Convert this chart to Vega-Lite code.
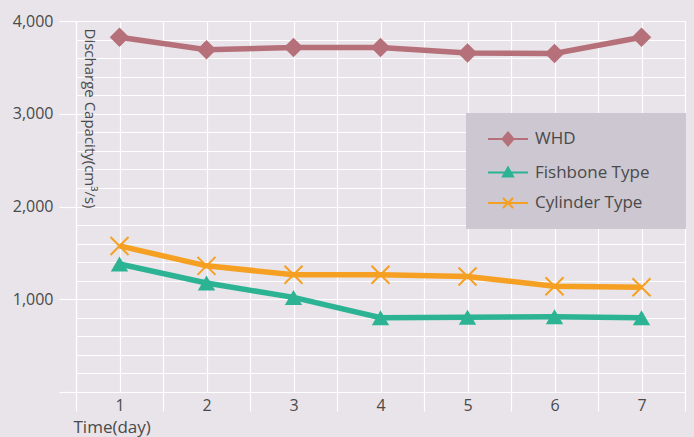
{
  "$schema": "https://vega.github.io/schema/vega-lite/v6.json",
  "width": 609,
  "height": 371,
  "autosize": "none",
  "padding": {"left": 76, "top": 21, "right": 9, "bottom": 45},
  "background": "#e8e4e9",
  "config": {"view": {"stroke": null}, "font": "Open Sans"},
  "data": {
    "values": [
      {"day": 1, "series": "WHD", "value": 3825},
      {"day": 2, "series": "WHD", "value": 3690},
      {"day": 3, "series": "WHD", "value": 3715},
      {"day": 4, "series": "WHD", "value": 3715},
      {"day": 5, "series": "WHD", "value": 3655},
      {"day": 6, "series": "WHD", "value": 3650},
      {"day": 7, "series": "WHD", "value": 3825},
      {"day": 1, "series": "Fishbone Type", "value": 1380},
      {"day": 2, "series": "Fishbone Type", "value": 1175},
      {"day": 3, "series": "Fishbone Type", "value": 1020},
      {"day": 4, "series": "Fishbone Type", "value": 800},
      {"day": 5, "series": "Fishbone Type", "value": 805},
      {"day": 6, "series": "Fishbone Type", "value": 810},
      {"day": 7, "series": "Fishbone Type", "value": 800},
      {"day": 1, "series": "Cylinder Type", "value": 1575},
      {"day": 2, "series": "Cylinder Type", "value": 1360},
      {"day": 3, "series": "Cylinder Type", "value": 1265},
      {"day": 4, "series": "Cylinder Type", "value": 1265},
      {"day": 5, "series": "Cylinder Type", "value": 1245},
      {"day": 6, "series": "Cylinder Type", "value": 1140},
      {"day": 7, "series": "Cylinder Type", "value": 1130}
    ]
  },
  "encoding": {
    "x": {
      "field": "day",
      "type": "quantitative",
      "scale": {"domain": [0.5, 7.5], "nice": false, "zero": false},
      "axis": {
        "values": [0.5, 1, 1.5, 2, 2.5, 3, 3.5, 4, 4.5, 5, 5.5, 6, 6.5, 7, 7.5],
        "format": "~g",
        "grid": true,
        "gridColor": "#ffffff",
        "gridWidth": 1.2,
        "gridOpacity": 1,
        "domain": false,
        "tickColor": "#ffffff",
        "tickWidth": 1.2,
        "tickSize": 19,
        "tickOpacity": {"condition": {"test": "datum.value % 1 == 0", "value": 0}, "value": 1},
        "labelOpacity": {"condition": {"test": "datum.value % 1 == 0", "value": 1}, "value": 0},
        "labelFontSize": 16,
        "labelColor": "#4a4a4a",
        "labelPadding": -14,
        "labelFlush": false,
        "labelOverlap": false,
        "title": "Time(day)",
        "titleFontSize": 17,
        "titleFontWeight": "normal",
        "titleColor": "#4a4a4a",
        "titleAnchor": "start",
        "titleAlign": "left",
        "titleX": -3,
        "titleY": 40,
        "titleBaseline": "alphabetic"
      }
    },
    "y": {
      "field": "value",
      "type": "quantitative",
      "scale": {"domain": [0, 4000], "nice": false},
      "axis": {
        "values": [0, 200, 400, 600, 800, 1000, 1200, 1400, 1600, 1800, 2000, 2200, 2400, 2600, 2800, 3000, 3200, 3400, 3600, 3800, 4000],
        "format": ",d",
        "grid": true,
        "gridColor": "#ffffff",
        "gridWidth": 1.2,
        "gridOpacity": 1,
        "domain": true,
        "domainColor": "#ffffff",
        "domainWidth": 1.2,
        "tickColor": "#ffffff",
        "tickWidth": 1.2,
        "tickSize": 17,
        "tickOpacity": {"condition": {"test": "datum.value % 1000 == 0", "value": 1}, "value": 0},
        "labelExpr": "datum.value % 1000 == 0 && datum.value > 0 ? datum.label : ''",
        "labelFontSize": 16,
        "labelColor": "#4a4a4a",
        "labelPadding": 6,
        "labelOverlap": false,
        "title": "Discharge Capacity(cm³/s)",
        "titleAngle": 90,
        "titleFontSize": 15,
        "titleFontWeight": "normal",
        "titleColor": "#4a4a4a",
        "titleAlign": "left",
        "titleBaseline": "middle",
        "titleX": 13,
        "titleY": 7
      }
    },
    "color": {
      "field": "series",
      "type": "nominal",
      "scale": {"domain": ["WHD", "Fishbone Type", "Cylinder Type"], "range": ["#b6707a", "#2bb394", "#f5a022"]},
      "legend": {
        "orient": "none",
        "legendX": 390,
        "legendY": 92,
        "title": null,
        "fillColor": "#ccc7d0",
        "padding": 16,
        "symbolSize": 324,
        "symbolOffset": 16,
        "labelOffset": 17,
        "rowPadding": 12.5,
        "labelFontSize": 17,
        "labelColor": "#4a4a4a",
        "encode": {
          "symbols": {
            "update": {
              "shape": {"signal": "datum.value === 'WHD' ? 'M-2.22,0H2.22M0,-0.72L0.61,0L0,0.72L-0.61,0ZM17.5,0' : datum.value === 'Fishbone Type' ? 'M-2.22,0H2.22M0,-0.55L0.56,0.44L-0.56,0.44ZM17.5,0' : 'M-2.22,0H2.22M-0.56,-0.56L0.56,0.56M0.56,-0.56L-0.56,0.56M17.5,0'"},
              "fill": {"signal": "scale('color', datum.value)"},
              "stroke": {"signal": "scale('color', datum.value)"},
              "strokeWidth": {"value": 2},
              "opacity": {"value": 1},
              "fillOpacity": {"value": 1},
              "strokeOpacity": {"value": 1}
            }
          }
        }
      }
    }
  },
  "layer": [
    {
      "mark": {"type": "line", "strokeWidth": 5.5}
    },
    {
      "transform": [{"filter": "datum.series === 'WHD'"}],
      "mark": {"type": "point", "shape": "diamond", "filled": true, "opacity": 1, "size": 380}
    },
    {
      "transform": [{"filter": "datum.series === 'Fishbone Type'"}],
      "mark": {"type": "point", "shape": "triangle-up", "filled": true, "opacity": 1, "size": 300}
    },
    {
      "transform": [{"filter": "datum.series === 'Cylinder Type'"}],
      "mark": {"type": "point", "shape": "M-1,-1L1,1M1,-1L-1,1", "filled": false, "opacity": 1, "strokeWidth": 2, "size": 324}
    }
  ]
}
